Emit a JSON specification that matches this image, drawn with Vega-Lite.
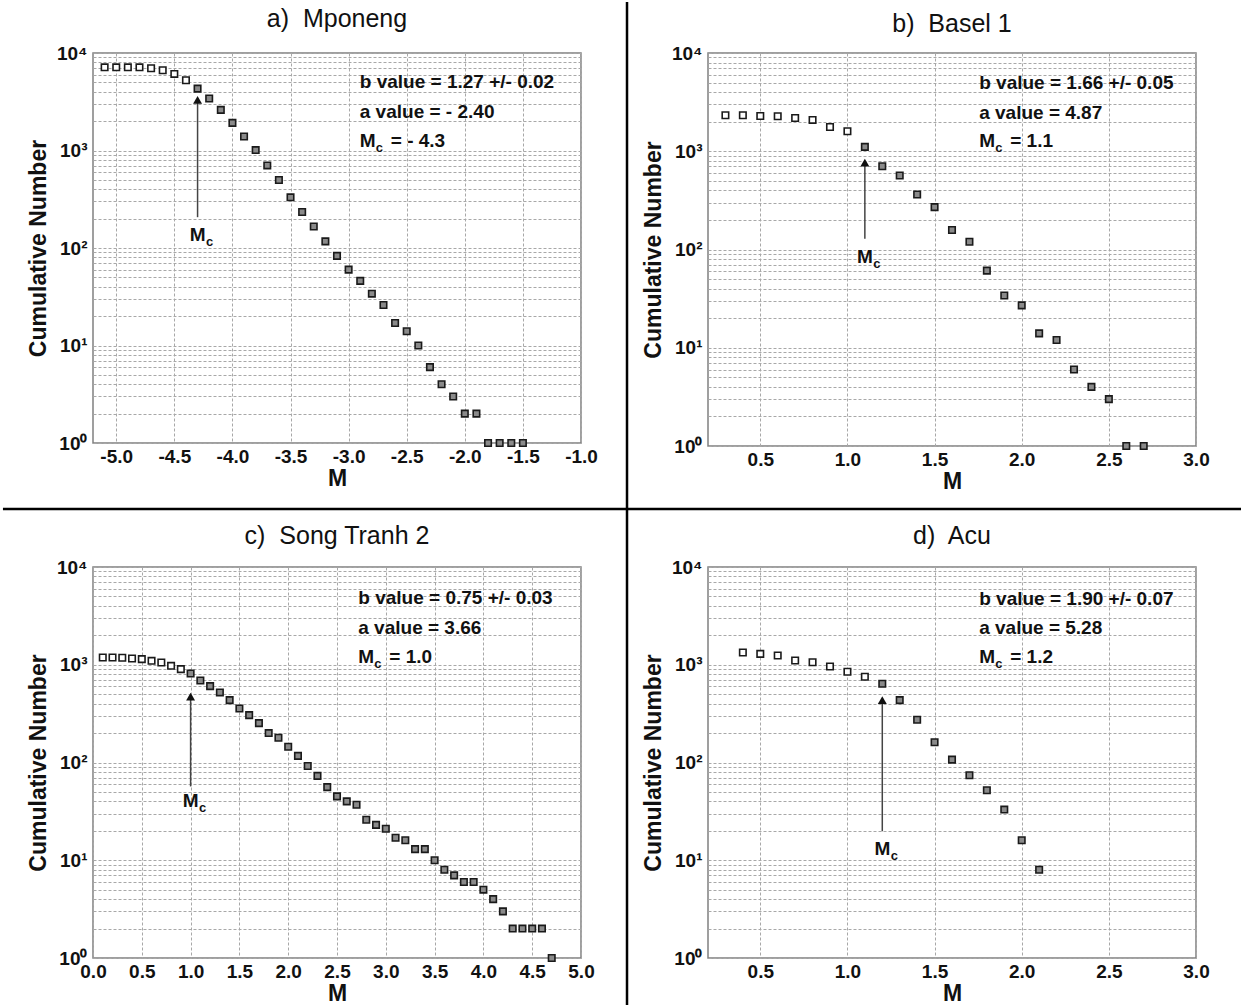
{
  "$schema": "https://vega.github.io/schema/vega-lite/v6.json",
  "autosize": {"type": "pad"},
  "padding": 0,
  "background": "white",
  "columns": 2,
  "bounds": "flush",
  "spacing": {"row": 121, "column": 127},
  "datasets": {
    "pts": [
      {"panel":"a","M":-5.1,"N":7130,"kind":"open"},{"panel":"a","M":-5.0,"N":7130,"kind":"open"},{"panel":"a","M":-4.9,"N":7130,"kind":"open"},{"panel":"a","M":-4.8,"N":7130,"kind":"open"},{"panel":"a","M":-4.7,"N":6970,"kind":"open"},{"panel":"a","M":-4.6,"N":6650,"kind":"open"},{"panel":"a","M":-4.5,"N":6100,"kind":"open"},{"panel":"a","M":-4.4,"N":5250,"kind":"open"},
      {"panel":"a","M":-4.3,"N":4310,"kind":"filled"},{"panel":"a","M":-4.2,"N":3410,"kind":"filled"},{"panel":"a","M":-4.1,"N":2610,"kind":"filled"},{"panel":"a","M":-4.0,"N":1920,"kind":"filled"},{"panel":"a","M":-3.9,"N":1390,"kind":"filled"},{"panel":"a","M":-3.8,"N":1010,"kind":"filled"},{"panel":"a","M":-3.7,"N":703,"kind":"filled"},{"panel":"a","M":-3.6,"N":498,"kind":"filled"},{"panel":"a","M":-3.5,"N":331,"kind":"filled"},{"panel":"a","M":-3.4,"N":234,"kind":"filled"},{"panel":"a","M":-3.3,"N":166,"kind":"filled"},{"panel":"a","M":-3.2,"N":117,"kind":"filled"},{"panel":"a","M":-3.1,"N":83,"kind":"filled"},{"panel":"a","M":-3.0,"N":60,"kind":"filled"},{"panel":"a","M":-2.9,"N":46,"kind":"filled"},{"panel":"a","M":-2.8,"N":34,"kind":"filled"},{"panel":"a","M":-2.7,"N":26,"kind":"filled"},{"panel":"a","M":-2.6,"N":17,"kind":"filled"},{"panel":"a","M":-2.5,"N":14,"kind":"filled"},{"panel":"a","M":-2.4,"N":10,"kind":"filled"},{"panel":"a","M":-2.3,"N":6,"kind":"filled"},{"panel":"a","M":-2.2,"N":4,"kind":"filled"},{"panel":"a","M":-2.1,"N":3,"kind":"filled"},{"panel":"a","M":-2.0,"N":2,"kind":"filled"},{"panel":"a","M":-1.9,"N":2,"kind":"filled"},{"panel":"a","M":-1.8,"N":1,"kind":"filled"},{"panel":"a","M":-1.7,"N":1,"kind":"filled"},{"panel":"a","M":-1.6,"N":1,"kind":"filled"},{"panel":"a","M":-1.5,"N":1,"kind":"filled"},
      {"panel":"b","M":0.3,"N":2323,"kind":"open"},{"panel":"b","M":0.4,"N":2323,"kind":"open"},{"panel":"b","M":0.5,"N":2287,"kind":"open"},{"panel":"b","M":0.6,"N":2270,"kind":"open"},{"panel":"b","M":0.7,"N":2183,"kind":"open"},{"panel":"b","M":0.8,"N":2084,"kind":"open"},{"panel":"b","M":0.9,"N":1768,"kind":"open"},{"panel":"b","M":1.0,"N":1597,"kind":"open"},
      {"panel":"b","M":1.1,"N":1107,"kind":"filled"},{"panel":"b","M":1.2,"N":703,"kind":"filled"},{"panel":"b","M":1.3,"N":566,"kind":"filled"},{"panel":"b","M":1.4,"N":363,"kind":"filled"},{"panel":"b","M":1.5,"N":270,"kind":"filled"},{"panel":"b","M":1.6,"N":158,"kind":"filled"},{"panel":"b","M":1.7,"N":120,"kind":"filled"},{"panel":"b","M":1.8,"N":61,"kind":"filled"},{"panel":"b","M":1.9,"N":34,"kind":"filled"},{"panel":"b","M":2.0,"N":27,"kind":"filled"},{"panel":"b","M":2.1,"N":14,"kind":"filled"},{"panel":"b","M":2.2,"N":12,"kind":"filled"},{"panel":"b","M":2.3,"N":6,"kind":"filled"},{"panel":"b","M":2.4,"N":4,"kind":"filled"},{"panel":"b","M":2.5,"N":3,"kind":"filled"},{"panel":"b","M":2.6,"N":1,"kind":"filled"},{"panel":"b","M":2.7,"N":1,"kind":"filled"},
      {"panel":"c","M":0.1,"N":1186,"kind":"open"},{"panel":"c","M":0.2,"N":1186,"kind":"open"},{"panel":"c","M":0.3,"N":1180,"kind":"open"},{"panel":"c","M":0.4,"N":1158,"kind":"open"},{"panel":"c","M":0.5,"N":1141,"kind":"open"},{"panel":"c","M":0.6,"N":1097,"kind":"open"},{"panel":"c","M":0.7,"N":1054,"kind":"open"},{"panel":"c","M":0.8,"N":975,"kind":"open"},{"panel":"c","M":0.9,"N":902,"kind":"open"},
      {"panel":"c","M":1.0,"N":815,"kind":"filled"},{"panel":"c","M":1.1,"N":690,"kind":"filled"},{"panel":"c","M":1.2,"N":604,"kind":"filled"},{"panel":"c","M":1.3,"N":521,"kind":"filled"},{"panel":"c","M":1.4,"N":435,"kind":"filled"},{"panel":"c","M":1.5,"N":357,"kind":"filled"},{"panel":"c","M":1.6,"N":305,"kind":"filled"},{"panel":"c","M":1.7,"N":253,"kind":"filled"},{"panel":"c","M":1.8,"N":200,"kind":"filled"},{"panel":"c","M":1.9,"N":179,"kind":"filled"},{"panel":"c","M":2.0,"N":145,"kind":"filled"},{"panel":"c","M":2.1,"N":117,"kind":"filled"},{"panel":"c","M":2.2,"N":92,"kind":"filled"},{"panel":"c","M":2.3,"N":73,"kind":"filled"},{"panel":"c","M":2.4,"N":56,"kind":"filled"},{"panel":"c","M":2.5,"N":45,"kind":"filled"},{"panel":"c","M":2.6,"N":40,"kind":"filled"},{"panel":"c","M":2.7,"N":37,"kind":"filled"},{"panel":"c","M":2.8,"N":26,"kind":"filled"},{"panel":"c","M":2.9,"N":23,"kind":"filled"},{"panel":"c","M":3.0,"N":21,"kind":"filled"},{"panel":"c","M":3.1,"N":17,"kind":"filled"},{"panel":"c","M":3.2,"N":16,"kind":"filled"},{"panel":"c","M":3.3,"N":13,"kind":"filled"},{"panel":"c","M":3.4,"N":13,"kind":"filled"},{"panel":"c","M":3.5,"N":10,"kind":"filled"},{"panel":"c","M":3.6,"N":8,"kind":"filled"},{"panel":"c","M":3.7,"N":7,"kind":"filled"},{"panel":"c","M":3.8,"N":6,"kind":"filled"},{"panel":"c","M":3.9,"N":6,"kind":"filled"},{"panel":"c","M":4.0,"N":5,"kind":"filled"},{"panel":"c","M":4.1,"N":4,"kind":"filled"},{"panel":"c","M":4.2,"N":3,"kind":"filled"},{"panel":"c","M":4.3,"N":2,"kind":"filled"},{"panel":"c","M":4.4,"N":2,"kind":"filled"},{"panel":"c","M":4.5,"N":2,"kind":"filled"},{"panel":"c","M":4.6,"N":2,"kind":"filled"},{"panel":"c","M":4.7,"N":1,"kind":"filled"},
      {"panel":"d","M":0.4,"N":1334,"kind":"open"},{"panel":"d","M":0.5,"N":1292,"kind":"open"},{"panel":"d","M":0.6,"N":1242,"kind":"open"},{"panel":"d","M":0.7,"N":1105,"kind":"open"},{"panel":"d","M":0.8,"N":1062,"kind":"open"},{"panel":"d","M":0.9,"N":959,"kind":"open"},{"panel":"d","M":1.0,"N":847,"kind":"open"},{"panel":"d","M":1.1,"N":753,"kind":"open"},
      {"panel":"d","M":1.2,"N":639,"kind":"filled"},{"panel":"d","M":1.3,"N":435,"kind":"filled"},{"panel":"d","M":1.4,"N":274,"kind":"filled"},{"panel":"d","M":1.5,"N":161,"kind":"filled"},{"panel":"d","M":1.6,"N":107,"kind":"filled"},{"panel":"d","M":1.7,"N":74,"kind":"filled"},{"panel":"d","M":1.8,"N":52,"kind":"filled"},{"panel":"d","M":1.9,"N":33,"kind":"filled"},{"panel":"d","M":2.0,"N":16,"kind":"filled"},{"panel":"d","M":2.1,"N":8,"kind":"filled"}
    ],
    "mc": [
      {"panel":"a","M":-4.3,"base":207,"tip":3313,"lab":136},
      {"panel":"b","M":1.1,"base":129,"tip":764,"lab":83},
      {"panel":"c","M":1.0,"base":56.9,"tip":471,"lab":40.5},
      {"panel":"d","M":1.2,"base":19.8,"tip":434,"lab":12.9}
    ],
    "notes": [
      {"panel":"a","M":-2.904,"N":5058,"part":"main","text":"b value = 1.27 +/- 0.02"},
      {"panel":"a","M":-2.904,"N":2500,"part":"main","text":"a value = - 2.40"},
      {"panel":"a","M":-2.904,"N":1265,"part":"main","text":"M"},
      {"panel":"a","M":-2.904,"N":1265,"part":"sub","text":"c"},
      {"panel":"a","M":-2.904,"N":1265,"part":"rest","text":"= - 4.3"},
      {"panel":"b","M":1.756,"N":4943,"part":"main","text":"b value = 1.66 +/- 0.05"},
      {"panel":"b","M":1.756,"N":2443,"part":"main","text":"a value = 4.87"},
      {"panel":"b","M":1.756,"N":1265,"part":"main","text":"M"},
      {"panel":"b","M":1.756,"N":1265,"part":"sub","text":"c"},
      {"panel":"b","M":1.756,"N":1265,"part":"rest","text":"= 1.1"},
      {"panel":"c","M":2.718,"N":4830,"part":"main","text":"b value = 0.75 +/- 0.03"},
      {"panel":"c","M":2.718,"N":2387,"part":"main","text":"a value = 3.66"},
      {"panel":"c","M":2.718,"N":1207,"part":"main","text":"M"},
      {"panel":"c","M":2.718,"N":1207,"part":"sub","text":"c"},
      {"panel":"c","M":2.718,"N":1207,"part":"rest","text":"= 1.0"},
      {"panel":"d","M":1.756,"N":4715,"part":"main","text":"b value = 1.90 +/- 0.07"},
      {"panel":"d","M":1.756,"N":2387,"part":"main","text":"a value = 5.28"},
      {"panel":"d","M":1.756,"N":1207,"part":"main","text":"M"},
      {"panel":"d","M":1.756,"N":1207,"part":"sub","text":"c"},
      {"panel":"d","M":1.756,"N":1207,"part":"rest","text":"= 1.2"}
    ]
  },
  "concat": [
    {
      "width": 488, "height": 390,
      "title": {"text": "a)\u00a0 Mponeng", "offset": -31},
      "layer": [
        {"data": {"name": "pts"}, "transform": [{"filter": "datum.panel === 'a'"}],
         "mark": {"type": "point", "shape": "square", "filled": true, "size": 42, "stroke": "#1a1a1a", "strokeWidth": 1.6, "opacity": 1},
         "encoding": {
           "x": {"field": "M", "type": "quantitative", "title": "M", "scale": {"domain": [-5.2, -1.0], "nice": false, "zero": false},
                 "axis": {"values": [-5, -4.5, -4, -3.5, -3, -2.5, -2, -1.5, -1], "labelExpr": "replace(format(datum.value, '.1f'), '\u2212', '-')"}},
           "y": {"field": "N", "type": "quantitative", "title": "Cumulative Number", "scale": {"type": "log", "domain": [1, 10000], "nice": false},
                 "axis": {"values": [1,2,3,4,5,6,7,8,9,10,20,30,40,50,60,70,80,90,100,200,300,400,500,600,700,800,900,1000,2000,3000,4000,5000,6000,7000,8000,9000,10000],
                          "labelExpr": "datum.value === 1 ? '10\u2070' : datum.value === 10 ? '10\u00b9' : datum.value === 100 ? '10\u00b2' : datum.value === 1000 ? '10\u00b3' : datum.value === 10000 ? '10\u2074' : ''"}},
           "fill": {"field": "kind", "type": "nominal", "scale": {"domain": ["open", "filled"], "range": ["#ffffff", "#8a8a8a"]}, "legend": null}
         }},
        {"data": {"name": "mc"}, "transform": [{"filter": "datum.panel === 'a'"}],
         "mark": {"type": "rule", "color": "#444444", "strokeWidth": 1.5},
         "encoding": {"x": {"field": "M", "type": "quantitative", "title": "M"}, "y": {"field": "base", "type": "quantitative", "title": "Cumulative Number"}, "y2": {"field": "tip"}}},
        {"data": {"name": "mc"}, "transform": [{"filter": "datum.panel === 'a'"}],
         "mark": {"type": "point", "shape": "triangle-up", "filled": true, "size": 80, "color": "#111111", "opacity": 1},
         "encoding": {"x": {"field": "M", "type": "quantitative", "title": "M"}, "y": {"field": "tip", "type": "quantitative", "title": "Cumulative Number"}}},
        {"data": {"name": "mc"}, "transform": [{"filter": "datum.panel === 'a'"}],
         "mark": {"type": "text", "text": "M", "fontSize": 19, "fontWeight": "bold", "align": "center", "baseline": "middle", "color": "#111111"},
         "encoding": {"x": {"field": "M", "type": "quantitative", "title": "M"}, "y": {"field": "lab", "type": "quantitative", "title": "Cumulative Number"}}},
        {"data": {"name": "mc"}, "transform": [{"filter": "datum.panel === 'a'"}],
         "mark": {"type": "text", "text": "c", "fontSize": 13, "fontWeight": "bold", "align": "left", "baseline": "middle", "dx": 8.5, "dy": 7, "color": "#111111"},
         "encoding": {"x": {"field": "M", "type": "quantitative", "title": "M"}, "y": {"field": "lab", "type": "quantitative", "title": "Cumulative Number"}}},
        {"data": {"name": "notes"}, "transform": [{"filter": "datum.panel === 'a' && datum.part === 'main'"}],
         "mark": {"type": "text", "fontSize": 19, "fontWeight": "bold", "align": "left", "baseline": "middle", "color": "#111111"},
         "encoding": {"x": {"field": "M", "type": "quantitative", "title": "M"}, "y": {"field": "N", "type": "quantitative", "title": "Cumulative Number"}, "text": {"field": "text"}}},
        {"data": {"name": "notes"}, "transform": [{"filter": "datum.panel === 'a' && datum.part === 'sub'"}],
         "mark": {"type": "text", "fontSize": 13, "fontWeight": "bold", "align": "left", "baseline": "middle", "dx": 16, "dy": 7, "color": "#111111"},
         "encoding": {"x": {"field": "M", "type": "quantitative", "title": "M"}, "y": {"field": "N", "type": "quantitative", "title": "Cumulative Number"}, "text": {"field": "text"}}},
        {"data": {"name": "notes"}, "transform": [{"filter": "datum.panel === 'a' && datum.part === 'rest'"}],
         "mark": {"type": "text", "fontSize": 19, "fontWeight": "bold", "align": "left", "baseline": "middle", "dx": 31, "color": "#111111"},
         "encoding": {"x": {"field": "M", "type": "quantitative", "title": "M"}, "y": {"field": "N", "type": "quantitative", "title": "Cumulative Number"}, "text": {"field": "text"}}},
        {"data": {"values": [{}]},
         "mark": {"type": "rule", "color": "#000000", "strokeWidth": 2.5},
         "encoding": {"x": {"datum": -0.604, "title": "M"}, "y": {"datum": 33340, "title": "Cumulative Number"}, "y2": {"datum": 0.00000172}}},
        {"data": {"values": [{}]},
         "mark": {"type": "rule", "color": "#000000", "strokeWidth": 2.5},
         "encoding": {"x": {"datum": -5.975, "title": "M"}, "x2": {"datum": 4.689}, "y": {"datum": 0.2103, "title": "Cumulative Number"}}}
      ]
    },
    {
      "width": 488, "height": 393,
      "title": {"text": "b)\u00a0 Basel 1", "offset": 7},
      "layer": [
        {"data": {"name": "pts"}, "transform": [{"filter": "datum.panel === 'b'"}],
         "mark": {"type": "point", "shape": "square", "filled": true, "size": 42, "stroke": "#1a1a1a", "strokeWidth": 1.6, "opacity": 1},
         "encoding": {
           "x": {"field": "M", "type": "quantitative", "title": "M", "scale": {"domain": [0.2, 3.0], "nice": false, "zero": false},
                 "axis": {"values": [0.5, 1, 1.5, 2, 2.5, 3], "labelExpr": "format(datum.value, '.1f')"}},
           "y": {"field": "N", "type": "quantitative", "title": "Cumulative Number", "scale": {"type": "log", "domain": [1, 10000], "nice": false},
                 "axis": {"values": [1,2,3,4,5,6,7,8,9,10,20,30,40,50,60,70,80,90,100,200,300,400,500,600,700,800,900,1000,2000,3000,4000,5000,6000,7000,8000,9000,10000],
                          "labelExpr": "datum.value === 1 ? '10\u2070' : datum.value === 10 ? '10\u00b9' : datum.value === 100 ? '10\u00b2' : datum.value === 1000 ? '10\u00b3' : datum.value === 10000 ? '10\u2074' : ''"}},
           "fill": {"field": "kind", "type": "nominal", "scale": {"domain": ["open", "filled"], "range": ["#ffffff", "#8a8a8a"]}, "legend": null}
         }},
        {"data": {"name": "mc"}, "transform": [{"filter": "datum.panel === 'b'"}],
         "mark": {"type": "rule", "color": "#444444", "strokeWidth": 1.5},
         "encoding": {"x": {"field": "M", "type": "quantitative", "title": "M"}, "y": {"field": "base", "type": "quantitative", "title": "Cumulative Number"}, "y2": {"field": "tip"}}},
        {"data": {"name": "mc"}, "transform": [{"filter": "datum.panel === 'b'"}],
         "mark": {"type": "point", "shape": "triangle-up", "filled": true, "size": 80, "color": "#111111", "opacity": 1},
         "encoding": {"x": {"field": "M", "type": "quantitative", "title": "M"}, "y": {"field": "tip", "type": "quantitative", "title": "Cumulative Number"}}},
        {"data": {"name": "mc"}, "transform": [{"filter": "datum.panel === 'b'"}],
         "mark": {"type": "text", "text": "M", "fontSize": 19, "fontWeight": "bold", "align": "center", "baseline": "middle", "color": "#111111"},
         "encoding": {"x": {"field": "M", "type": "quantitative", "title": "M"}, "y": {"field": "lab", "type": "quantitative", "title": "Cumulative Number"}}},
        {"data": {"name": "mc"}, "transform": [{"filter": "datum.panel === 'b'"}],
         "mark": {"type": "text", "text": "c", "fontSize": 13, "fontWeight": "bold", "align": "left", "baseline": "middle", "dx": 8.5, "dy": 7, "color": "#111111"},
         "encoding": {"x": {"field": "M", "type": "quantitative", "title": "M"}, "y": {"field": "lab", "type": "quantitative", "title": "Cumulative Number"}}},
        {"data": {"name": "notes"}, "transform": [{"filter": "datum.panel === 'b' && datum.part === 'main'"}],
         "mark": {"type": "text", "fontSize": 19, "fontWeight": "bold", "align": "left", "baseline": "middle", "color": "#111111"},
         "encoding": {"x": {"field": "M", "type": "quantitative", "title": "M"}, "y": {"field": "N", "type": "quantitative", "title": "Cumulative Number"}, "text": {"field": "text"}}},
        {"data": {"name": "notes"}, "transform": [{"filter": "datum.panel === 'b' && datum.part === 'sub'"}],
         "mark": {"type": "text", "fontSize": 13, "fontWeight": "bold", "align": "left", "baseline": "middle", "dx": 16, "dy": 7, "color": "#111111"},
         "encoding": {"x": {"field": "M", "type": "quantitative", "title": "M"}, "y": {"field": "N", "type": "quantitative", "title": "Cumulative Number"}, "text": {"field": "text"}}},
        {"data": {"name": "notes"}, "transform": [{"filter": "datum.panel === 'b' && datum.part === 'rest'"}],
         "mark": {"type": "text", "fontSize": 19, "fontWeight": "bold", "align": "left", "baseline": "middle", "dx": 31, "color": "#111111"},
         "encoding": {"x": {"field": "M", "type": "quantitative", "title": "M"}, "y": {"field": "N", "type": "quantitative", "title": "Cumulative Number"}, "text": {"field": "text"}}}
      ]
    },
    {
      "width": 488, "height": 391,
      "title": {"text": "c)\u00a0 Song Tranh 2", "offset": 9},
      "layer": [
        {"data": {"name": "pts"}, "transform": [{"filter": "datum.panel === 'c'"}],
         "mark": {"type": "point", "shape": "square", "filled": true, "size": 42, "stroke": "#1a1a1a", "strokeWidth": 1.6, "opacity": 1},
         "encoding": {
           "x": {"field": "M", "type": "quantitative", "title": "M", "scale": {"domain": [0, 5.0], "nice": false, "zero": false},
                 "axis": {"values": [0, 0.5, 1, 1.5, 2, 2.5, 3, 3.5, 4, 4.5, 5], "labelExpr": "format(datum.value, '.1f')"}},
           "y": {"field": "N", "type": "quantitative", "title": "Cumulative Number", "scale": {"type": "log", "domain": [1, 10000], "nice": false},
                 "axis": {"values": [1,2,3,4,5,6,7,8,9,10,20,30,40,50,60,70,80,90,100,200,300,400,500,600,700,800,900,1000,2000,3000,4000,5000,6000,7000,8000,9000,10000],
                          "labelExpr": "datum.value === 1 ? '10\u2070' : datum.value === 10 ? '10\u00b9' : datum.value === 100 ? '10\u00b2' : datum.value === 1000 ? '10\u00b3' : datum.value === 10000 ? '10\u2074' : ''"}},
           "fill": {"field": "kind", "type": "nominal", "scale": {"domain": ["open", "filled"], "range": ["#ffffff", "#8a8a8a"]}, "legend": null}
         }},
        {"data": {"name": "mc"}, "transform": [{"filter": "datum.panel === 'c'"}],
         "mark": {"type": "rule", "color": "#444444", "strokeWidth": 1.5},
         "encoding": {"x": {"field": "M", "type": "quantitative", "title": "M"}, "y": {"field": "base", "type": "quantitative", "title": "Cumulative Number"}, "y2": {"field": "tip"}}},
        {"data": {"name": "mc"}, "transform": [{"filter": "datum.panel === 'c'"}],
         "mark": {"type": "point", "shape": "triangle-up", "filled": true, "size": 80, "color": "#111111", "opacity": 1},
         "encoding": {"x": {"field": "M", "type": "quantitative", "title": "M"}, "y": {"field": "tip", "type": "quantitative", "title": "Cumulative Number"}}},
        {"data": {"name": "mc"}, "transform": [{"filter": "datum.panel === 'c'"}],
         "mark": {"type": "text", "text": "M", "fontSize": 19, "fontWeight": "bold", "align": "center", "baseline": "middle", "color": "#111111"},
         "encoding": {"x": {"field": "M", "type": "quantitative", "title": "M"}, "y": {"field": "lab", "type": "quantitative", "title": "Cumulative Number"}}},
        {"data": {"name": "mc"}, "transform": [{"filter": "datum.panel === 'c'"}],
         "mark": {"type": "text", "text": "c", "fontSize": 13, "fontWeight": "bold", "align": "left", "baseline": "middle", "dx": 8.5, "dy": 7, "color": "#111111"},
         "encoding": {"x": {"field": "M", "type": "quantitative", "title": "M"}, "y": {"field": "lab", "type": "quantitative", "title": "Cumulative Number"}}},
        {"data": {"name": "notes"}, "transform": [{"filter": "datum.panel === 'c' && datum.part === 'main'"}],
         "mark": {"type": "text", "fontSize": 19, "fontWeight": "bold", "align": "left", "baseline": "middle", "color": "#111111"},
         "encoding": {"x": {"field": "M", "type": "quantitative", "title": "M"}, "y": {"field": "N", "type": "quantitative", "title": "Cumulative Number"}, "text": {"field": "text"}}},
        {"data": {"name": "notes"}, "transform": [{"filter": "datum.panel === 'c' && datum.part === 'sub'"}],
         "mark": {"type": "text", "fontSize": 13, "fontWeight": "bold", "align": "left", "baseline": "middle", "dx": 16, "dy": 7, "color": "#111111"},
         "encoding": {"x": {"field": "M", "type": "quantitative", "title": "M"}, "y": {"field": "N", "type": "quantitative", "title": "Cumulative Number"}, "text": {"field": "text"}}},
        {"data": {"name": "notes"}, "transform": [{"filter": "datum.panel === 'c' && datum.part === 'rest'"}],
         "mark": {"type": "text", "fontSize": 19, "fontWeight": "bold", "align": "left", "baseline": "middle", "dx": 31, "color": "#111111"},
         "encoding": {"x": {"field": "M", "type": "quantitative", "title": "M"}, "y": {"field": "N", "type": "quantitative", "title": "Cumulative Number"}, "text": {"field": "text"}}}
      ]
    },
    {
      "width": 488, "height": 391,
      "title": {"text": "d)\u00a0 Acu", "offset": 9},
      "layer": [
        {"data": {"name": "pts"}, "transform": [{"filter": "datum.panel === 'd'"}],
         "mark": {"type": "point", "shape": "square", "filled": true, "size": 42, "stroke": "#1a1a1a", "strokeWidth": 1.6, "opacity": 1},
         "encoding": {
           "x": {"field": "M", "type": "quantitative", "title": "M", "scale": {"domain": [0.2, 3.0], "nice": false, "zero": false},
                 "axis": {"values": [0.5, 1, 1.5, 2, 2.5, 3], "labelExpr": "format(datum.value, '.1f')"}},
           "y": {"field": "N", "type": "quantitative", "title": "Cumulative Number", "scale": {"type": "log", "domain": [1, 10000], "nice": false},
                 "axis": {"values": [1,2,3,4,5,6,7,8,9,10,20,30,40,50,60,70,80,90,100,200,300,400,500,600,700,800,900,1000,2000,3000,4000,5000,6000,7000,8000,9000,10000],
                          "labelExpr": "datum.value === 1 ? '10\u2070' : datum.value === 10 ? '10\u00b9' : datum.value === 100 ? '10\u00b2' : datum.value === 1000 ? '10\u00b3' : datum.value === 10000 ? '10\u2074' : ''"}},
           "fill": {"field": "kind", "type": "nominal", "scale": {"domain": ["open", "filled"], "range": ["#ffffff", "#8a8a8a"]}, "legend": null}
         }},
        {"data": {"name": "mc"}, "transform": [{"filter": "datum.panel === 'd'"}],
         "mark": {"type": "rule", "color": "#444444", "strokeWidth": 1.5},
         "encoding": {"x": {"field": "M", "type": "quantitative", "title": "M"}, "y": {"field": "base", "type": "quantitative", "title": "Cumulative Number"}, "y2": {"field": "tip"}}},
        {"data": {"name": "mc"}, "transform": [{"filter": "datum.panel === 'd'"}],
         "mark": {"type": "point", "shape": "triangle-up", "filled": true, "size": 80, "color": "#111111", "opacity": 1},
         "encoding": {"x": {"field": "M", "type": "quantitative", "title": "M"}, "y": {"field": "tip", "type": "quantitative", "title": "Cumulative Number"}}},
        {"data": {"name": "mc"}, "transform": [{"filter": "datum.panel === 'd'"}],
         "mark": {"type": "text", "text": "M", "fontSize": 19, "fontWeight": "bold", "align": "center", "baseline": "middle", "color": "#111111"},
         "encoding": {"x": {"field": "M", "type": "quantitative", "title": "M"}, "y": {"field": "lab", "type": "quantitative", "title": "Cumulative Number"}}},
        {"data": {"name": "mc"}, "transform": [{"filter": "datum.panel === 'd'"}],
         "mark": {"type": "text", "text": "c", "fontSize": 13, "fontWeight": "bold", "align": "left", "baseline": "middle", "dx": 8.5, "dy": 7, "color": "#111111"},
         "encoding": {"x": {"field": "M", "type": "quantitative", "title": "M"}, "y": {"field": "lab", "type": "quantitative", "title": "Cumulative Number"}}},
        {"data": {"name": "notes"}, "transform": [{"filter": "datum.panel === 'd' && datum.part === 'main'"}],
         "mark": {"type": "text", "fontSize": 19, "fontWeight": "bold", "align": "left", "baseline": "middle", "color": "#111111"},
         "encoding": {"x": {"field": "M", "type": "quantitative", "title": "M"}, "y": {"field": "N", "type": "quantitative", "title": "Cumulative Number"}, "text": {"field": "text"}}},
        {"data": {"name": "notes"}, "transform": [{"filter": "datum.panel === 'd' && datum.part === 'sub'"}],
         "mark": {"type": "text", "fontSize": 13, "fontWeight": "bold", "align": "left", "baseline": "middle", "dx": 16, "dy": 7, "color": "#111111"},
         "encoding": {"x": {"field": "M", "type": "quantitative", "title": "M"}, "y": {"field": "N", "type": "quantitative", "title": "Cumulative Number"}, "text": {"field": "text"}}},
        {"data": {"name": "notes"}, "transform": [{"filter": "datum.panel === 'd' && datum.part === 'rest'"}],
         "mark": {"type": "text", "fontSize": 19, "fontWeight": "bold", "align": "left", "baseline": "middle", "dx": 31, "color": "#111111"},
         "encoding": {"x": {"field": "M", "type": "quantitative", "title": "M"}, "y": {"field": "N", "type": "quantitative", "title": "Cumulative Number"}, "text": {"field": "text"}}}
      ]
    }
  ],
  "config": {
    "font": "Liberation Sans",
    "view": {"stroke": "#808080", "strokeWidth": 1.5},
    "axis": {
      "domain": false, "ticks": false, "grid": true,
      "gridColor": "#a8a8a8", "gridDash": [3, 2], "gridWidth": 1,
      "labelFont": "Liberation Sans", "labelFontSize": 19, "labelFontWeight": "bold", "labelColor": "#111111",
      "labelOverlap": false, "labelFlush": false, "labelBound": false,
      "titleFont": "Liberation Sans", "titleFontSize": 23, "titleFontWeight": "bold", "titleColor": "#111111"
    },
    "axisX": {"labelPadding": 4, "titlePadding": 1},
    "axisY": {"labelPadding": 6, "titlePadding": 6},
    "title": {"font": "Liberation Sans", "fontSize": 25, "fontWeight": "normal", "color": "#111111", "anchor": "middle", "frame": "group", "baseline": "alphabetic"}
  }
}
